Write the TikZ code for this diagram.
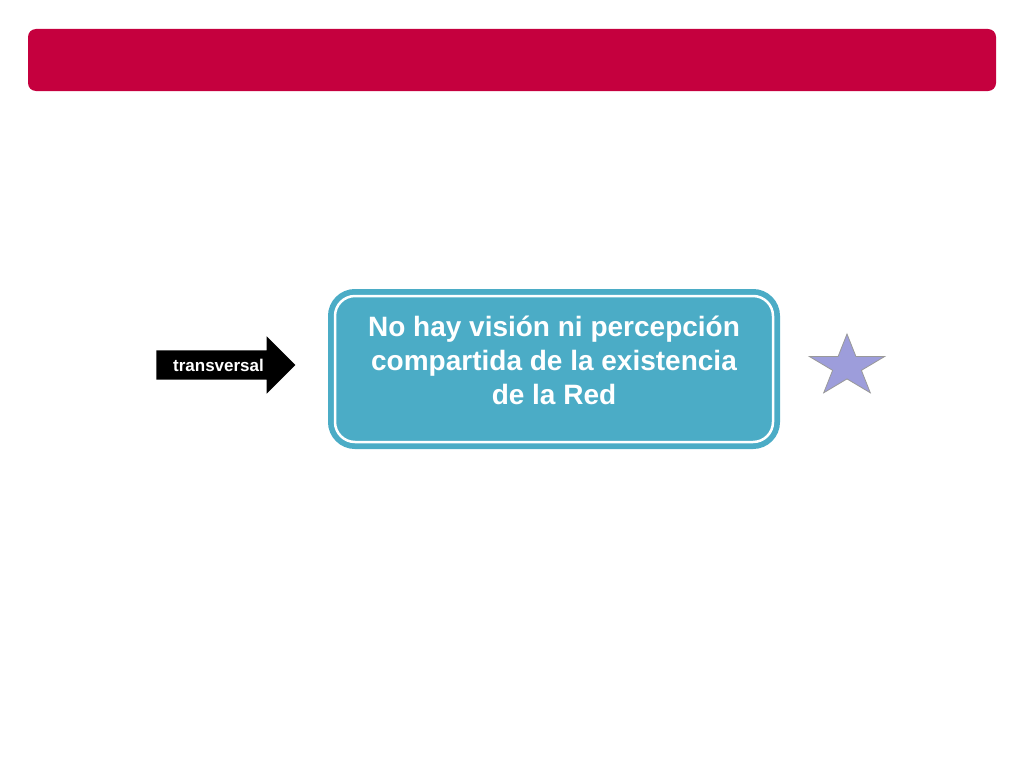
\documentclass[tikz,border=0pt]{standalone}
\usepackage{fontspec}
\setmainfont{Liberation Sans}
\usetikzlibrary{shapes.geometric,shapes.arrows}
\definecolor{bannerred}{HTML}{C5003E}
\definecolor{boxblue}{HTML}{4BACC6}
\definecolor{starblue}{HTML}{9D9DDB}
\tikzstyle{banner}=[rectangle,rounded corners=8pt,fill=bannerred,minimum width=968pt,minimum height=62pt,inner sep=0pt]
\tikzstyle{idea box}=[rectangle,rounded corners=20pt,fill=boxblue,draw=white,line width=2.5pt,minimum width=438pt,minimum height=146pt,preaction={draw=boxblue,line width=14pt}]
\tikzstyle{idea text}=[text=white,font=\bfseries\fontsize{28}{34}\selectfont,align=center,inner sep=0pt]
\tikzstyle{pointer}=[single arrow,fill=black,text=white,font=\bfseries\fontsize{17}{19}\selectfont,text height=12pt,text depth=0pt,inner xsep=2pt,inner ysep=8.5pt,minimum height=139pt,minimum width=57pt,single arrow head extend=14pt]
\tikzstyle{mark star}=[star,star points=5,star point ratio=2.618,fill=starblue,draw=black!40,line width=0.8pt,minimum size=65pt,inner sep=0pt,transform shape,xscale=1.22]

\begin{document}
\begin{tikzpicture}[x=1pt,y=-1pt]
    \useasboundingbox (0,0) rectangle (1024,768);
    % First the banner and the main box
    \node[banner] (top) at (512,60) {};
    \node[idea box] (idea) at (554,369) {};
    \node[idea text] (ideatext) at (554,360) {No hay visión ni percepción\\compartida de la existencia\\de la Red};

    % Then the arrow and the star beside it
    \node[pointer] (arrow) at (218.5,365) {transversal};
    \node[mark star] (star) at (847,366.5) {};
\end{tikzpicture}
\end{document}
